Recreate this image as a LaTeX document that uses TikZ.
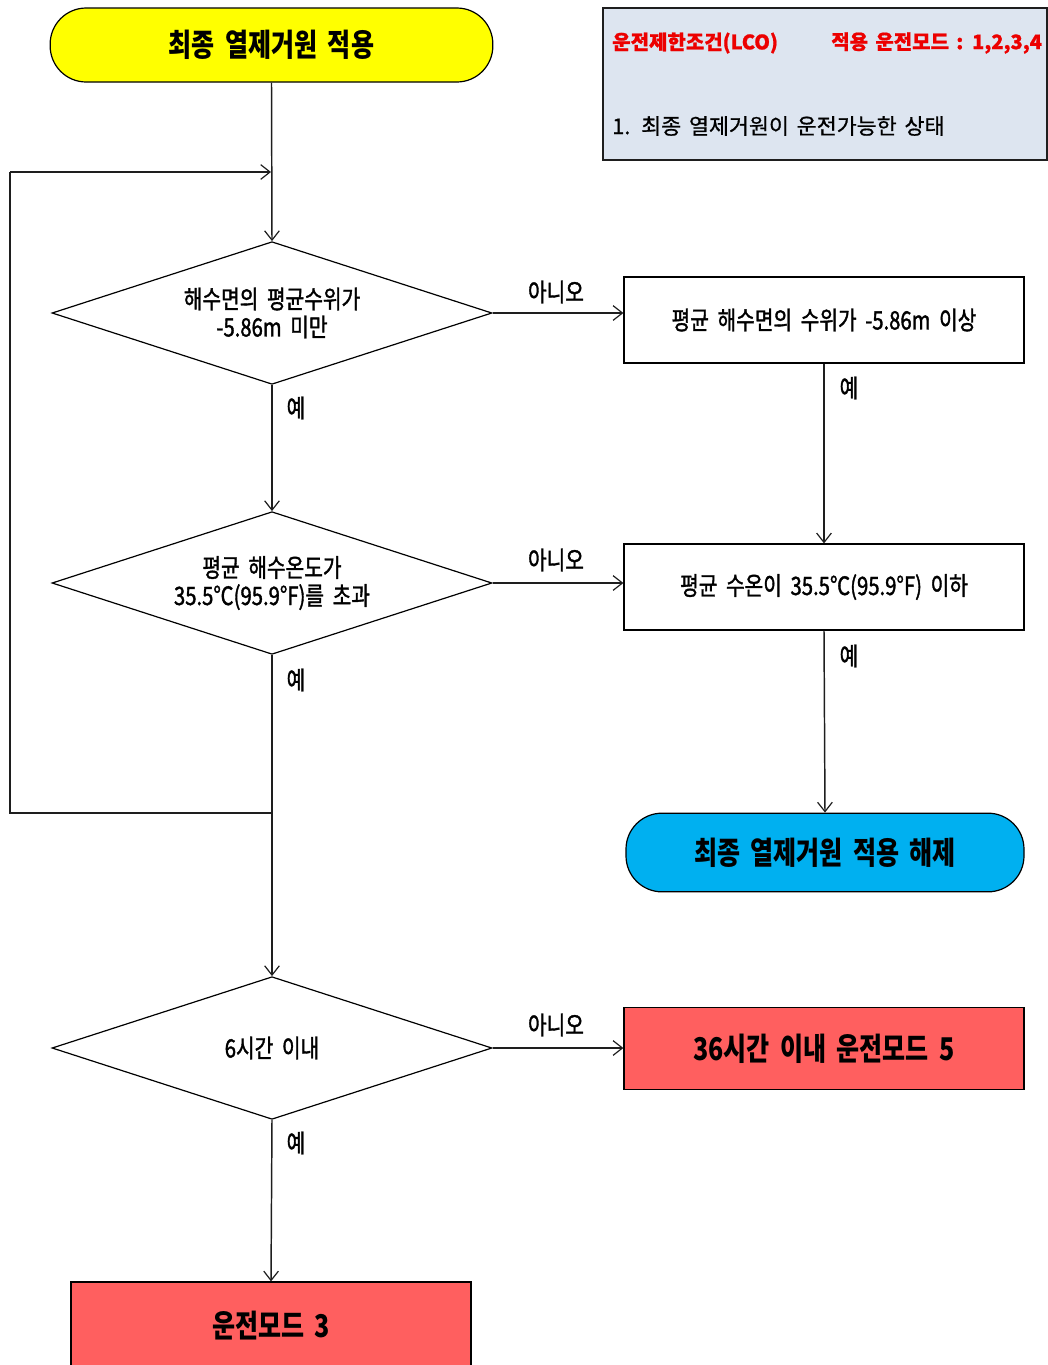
\documentclass[tikz,border=0pt]{standalone}
\usepackage{fontspec}
\setmainfont{Noto Sans CJK KR}[FakeStretch=0.8, WordSpace=1.8]
\newfontfamily\bodyfont{Noto Sans CJK KR}[FakeStretch=0.8, WordSpace=1.9, FakeBold=1.4]
\newfontfamily\widefont{Noto Sans CJK KR}[WordSpace=1.6, FakeBold=0.8]
\usetikzlibrary{shapes.geometric,arrows.meta}

\definecolor{startyellow}{RGB}{255,255,0}
\definecolor{endblue}{RGB}{0,176,240}
\definecolor{modered}{RGB}{255,95,95}
\definecolor{lcofill}{RGB}{221,229,240}
\definecolor{lcored}{RGB}{236,0,0}
\definecolor{linegray}{RGB}{30,30,30}

\begin{document}
\begin{tikzpicture}[x=0.75pt,y=-0.75pt,
  every node/.style={inner sep=0pt},
  txt/.style={font=\bodyfont\fontsize{19}{21}\selectfont},
  bigtxt/.style={font=\bfseries\fontsize{23.5}{26}\selectfont},
  line/.style={line width=1.1pt, draw=linegray},
  arr/.style={line, -{Straight Barb[length=7pt,width=11pt,line width=0.9pt]}},
  terminal/.style={draw=black, line width=0.9pt, rounded corners=27pt, minimum height=55.5pt, bigtxt},
  decision/.style={diamond, aspect=3.077, draw=black, line width=0.9pt, minimum width=330pt, minimum height=107pt, txt, align=center},
  process/.style={rectangle, draw=black, line width=0.9pt, minimum width=300pt, minimum height=64.5pt, txt},
  modebox/.style={rectangle, draw=black, line width=0.9pt, fill=modered, minimum width=300pt, bigtxt},
  answer/.style={txt}
]
\useasboundingbox (0,0) rectangle (1048,1365);
\clip (0,0) rectangle (1048,1365);

% applicability note
\node[rectangle, draw=linegray, line width=0.9pt, fill=lcofill, minimum width=333pt, minimum height=114pt] (lco) at (825,84) {};
\node[anchor=west, text=lcored, font=\widefont\bfseries\fontsize{15}{18}\selectfont] (lcohead) at (612,43) {운전제한조건(LCO)};
\node[anchor=west, text=lcored, font=\widefont\bfseries\fontsize{15}{18}\selectfont] (lcomode) at (831,43) {적용 운전모드 : 1,2,3,4};
\node[anchor=west, font=\widefont\fontsize{16.3}{18}\selectfont] (lcoitem) at (612,126) {1.\hspace{0.5em}최종 열제거원이 운전가능한 상태};

% flow nodes
\node[terminal, fill=startyellow, minimum width=332pt] (start) at (271.5,45) {최종 열제거원 적용};
\node[decision] (d1) at (272,313) {해수면의 평균수위가\\-5.86m 미만};
\node[process] (b1) at (824,320) {평균 해수면의 수위가 -5.86m 이상};
\node[decision] (d2) at (272,583) {평균 해수온도가\\35.5℃(95.9°F)를 초과};
\node[process] (b2) at (824,587) {평균 수온이 35.5℃(95.9°F) 이하};
\node[terminal, fill=endblue, minimum width=298.5pt, minimum height=59pt] (end) at (825,852.5) {최종 열제거원 적용 해제};
\node[decision] (d3) at (272,1048) {6시간 이내};
\node[modebox, minimum height=62pt] (b3) at (824,1048.5) {36시간 이내 운전모드 5};
\node[modebox, minimum height=66pt] (b4) at (271,1326) {운전모드 3};

% loop-back points
\coordinate (join) at (271,813);
\coordinate (loopbl) at (10,813);
\coordinate (looptl) at (10,172);
\coordinate (merge) at (271,172);

% connectors
\draw[arr] (start.south) -- (d1.north);
\draw[arr] (d1.south) -- (d2.north);
\draw[arr] (d1.east) -- (d1.east -| b1.west);
\draw[arr] (d2.east) -- (d2.east -| b2.west);
\draw[arr] (b1.south) -- (b2.north);
\draw[arr] (b2.south) -- (end.north);
\draw[arr] (d2.south) -- (d3.north);
\draw[line] (join) -- (loopbl) -- (looptl);
\draw[arr] (looptl) -- (merge);
\draw[arr] (d3.east) -- (d3.east -| b3.west);
\draw[arr] (d3.south) -- (b4.north);

% branch labels
\node[answer] (no1) at (556,292) {아니오};
\node[answer] (no2) at (556,560) {아니오};
\node[answer] (no3) at (556,1025) {아니오};
\node[answer] (yes1) at (296,408) {예};
\node[answer] (yes2) at (296,680) {예};
\node[answer] (yes3) at (296,1143) {예};
\node[answer] (yes4) at (849,388) {예};
\node[answer] (yes5) at (849,656) {예};
\end{tikzpicture}
\end{document}
